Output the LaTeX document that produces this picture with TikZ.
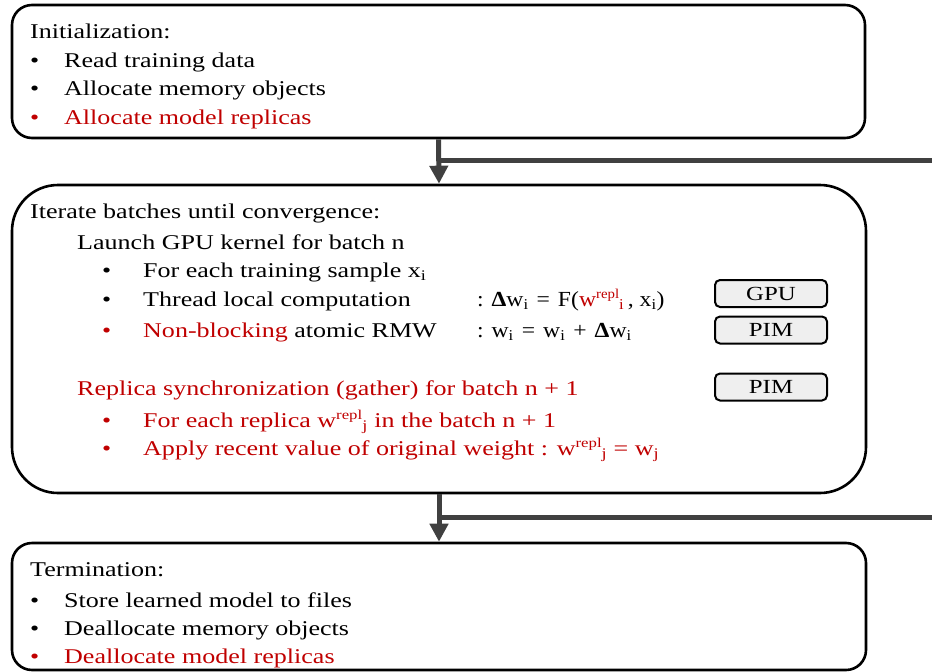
\documentclass[tikz,border=0pt]{standalone}
\usepackage{fontspec}
\setmainfont[FakeStretch=1.24]{Liberation Serif}
\newfontfamily\formulafont[FakeStretch=1.1]{Liberation Serif}
\usetikzlibrary{arrows.meta}
\definecolor{accent}{HTML}{C00000}
\definecolor{flowgray}{HTML}{404040}
\definecolor{tagfill}{HTML}{EFEFEF}
\newcommand{\bul}{\makebox[34pt][l]{•}}
\newcommand{\subbul}{\makebox[41pt][l]{•}}
% replica superscript, set lower and smaller than \textsuperscript
\newcommand{\repl}{\raisebox{0.36em}{\fontsize{13.5}{14}\selectfont repl}}
\newcommand{\wop}[1]{\hspace{8pt}#1\hspace{8pt}}
\begin{document}
\begin{tikzpicture}[x=1pt,y=-1pt,
  stage/.style={draw=black, line width=2.6pt, inner sep=0pt},
  txt/.style={anchor=base west, inner sep=0pt, font=\fontsize{21}{25}\selectfont},
  itxt/.style={anchor=base west, inner sep=0pt, font=\fontsize{21}{25}\selectfont},
  ftxt/.style={anchor=base west, inner sep=0pt, font=\formulafont\fontsize{21.5}{26}\selectfont},
  tag/.style={draw=black, line width=2pt, fill=tagfill, rounded corners=5pt,
    minimum width=112pt, minimum height=27pt, inner sep=0pt, font=\fontsize{20}{24}\selectfont},
  flow/.style={draw=flowgray, line width=5pt, -{Triangle[length=18pt,width=18pt]}},
  branch/.style={draw=flowgray, line width=5pt}]
\useasboundingbox (0,0) rectangle (932,672);

% three stages
\node[stage, rounded corners=20pt, minimum width=853pt, minimum height=133pt] (init) at (438.5,71.5) {};
\node[stage, rounded corners=46pt, minimum width=854pt, minimum height=308pt] (iter) at (439,339) {};
\node[stage, rounded corners=20pt, minimum width=854pt, minimum height=127pt] (term) at (439,606.5) {};

% connectors between stages
\draw[flow] (init.south) -- (iter.north);
\draw[flow] (iter.south) -- (term.north);
\coordinate (j1) at (439,160);
\coordinate (e1) at (932,160);
\coordinate (j2) at (439,517);
\coordinate (e2) at (932,517);
\draw[branch] (j1) -- (e1);
\draw[branch] (j2) -- (e2);

% initialization
\node[txt] (i0) at (30,38) {Initialization:};
\node[txt] (i1) at (30,67) {\bul Read training data};
\node[txt] (i2) at (30,95) {\bul Allocate memory objects};
\node[txt, text=accent] (i3) at (30,124) {\bul Allocate model replicas};

% iteration
\node[itxt] (t0) at (30,218) {Iterate batches until convergence:};
\node[itxt] (t1) at (77,249) {Launch GPU kernel for batch n};
\node[itxt] (t2) at (102,277) {\subbul For each training sample x\textsubscript{i}};
\node[itxt] (t3) at (102,306) {\subbul Thread local computation};
\node[itxt] (t4) at (102,337) {{\color{accent}\subbul Non-blocking} atomic RMW};
\node[ftxt] (f1) at (477,306) {: \textbf{Δ}w\textsubscript{i}\wop{=}F({\color{accent}w\repl\textsubscript{i}}\,, x\textsubscript{i})};
\node[ftxt] (f2) at (477,337) {: w\textsubscript{i}\wop{=}w\textsubscript{i}\wop{+}\textbf{Δ}w\textsubscript{i}};
\node[itxt, text=accent] (t5) at (77,395) {Replica synchronization (gather) for batch n + 1};
\node[itxt, text=accent] (t6) at (102,427) {\subbul For each replica w\repl\textsubscript{j} in the batch n + 1};
\node[itxt, text=accent] (t7) at (102,455) {\subbul Apply recent value of original weight : w\repl\textsubscript{j} = w\textsubscript{j}};

% execution units
\node[tag] (gpu) at (771,293.5) {GPU};
\node[tag] (pim1) at (771,330) {PIM};
\node[tag] (pim2) at (771,387) {PIM};

% termination
\node[txt] (e0) at (30,576) {Termination:};
\node[txt] (e1t) at (30,607) {\bul Store learned model to files};
\node[txt] (e2t) at (30,635) {\bul Deallocate memory objects};
\node[txt, text=accent] (e3t) at (30,663) {\bul Deallocate model replicas};
\end{tikzpicture}
\end{document}
